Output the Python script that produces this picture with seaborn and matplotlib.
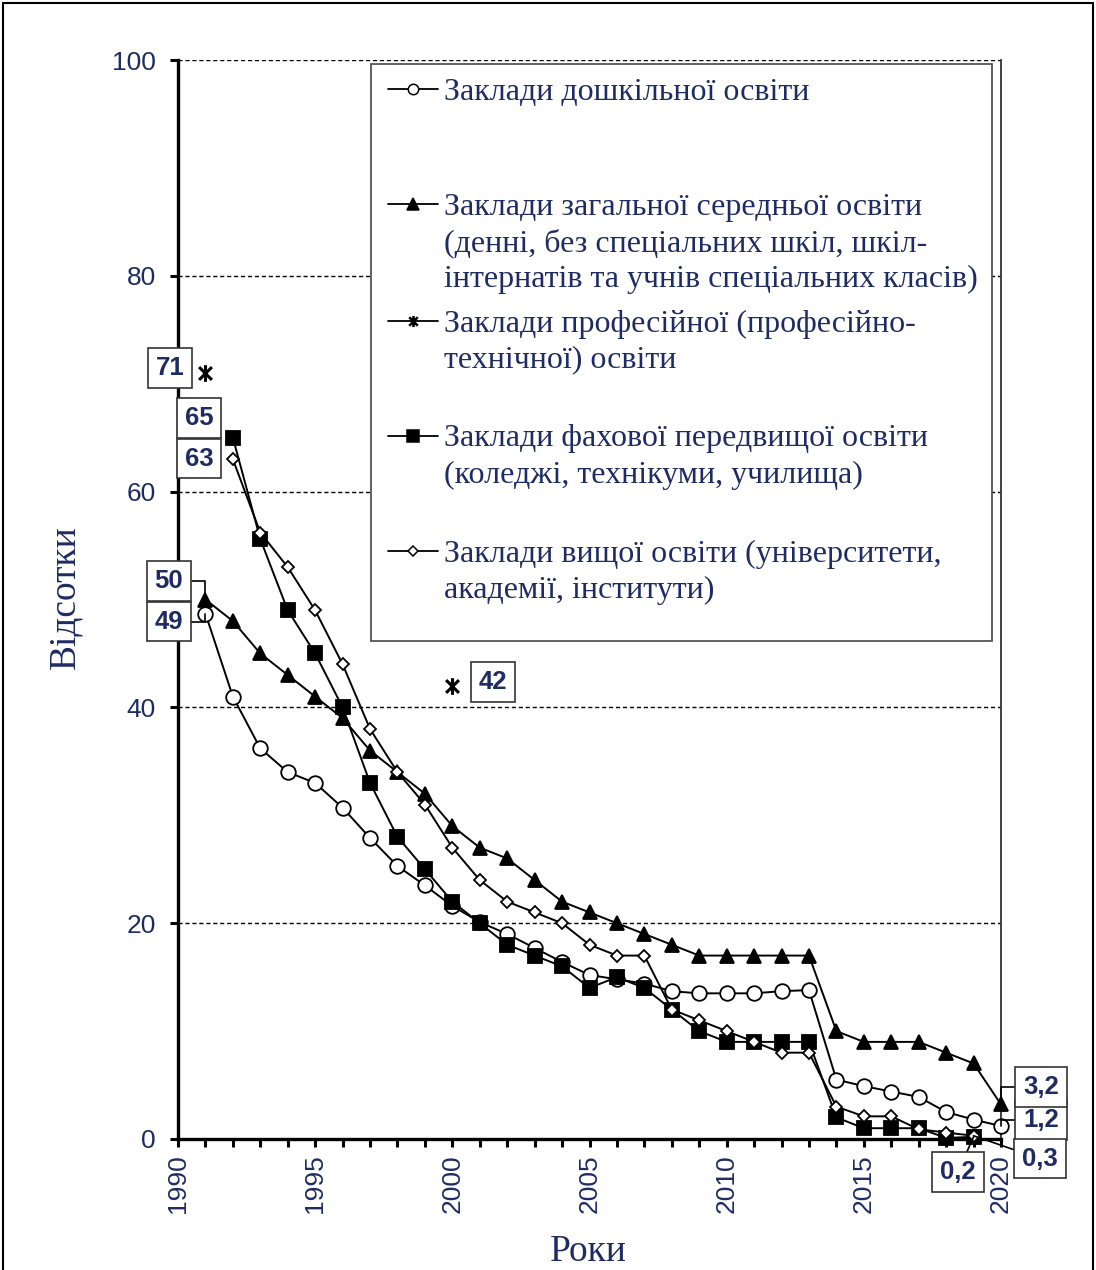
import numpy as np
import pandas as pd
import matplotlib
matplotlib.use("Agg")
import matplotlib.pyplot as plt
import seaborn as sns
from matplotlib.path import Path
from matplotlib.lines import Line2D
from matplotlib.patches import Rectangle
from matplotlib.ticker import MultipleLocator

# ---------------- data ----------------
nan = np.nan
years = list(range(1991, 2021))
preschool = [48.7, 41.0, 36.2, 34.0, 33.0, 30.7, 27.9, 25.3, 23.5, 21.6,
             20.1, 19.0, 17.7, 16.4, 15.2, 14.8, 14.4, 13.7, 13.5, 13.5,
             13.5, 13.7, 13.8, 5.5, 4.9, 4.4, 3.9, 2.5, 1.8, 1.2]
secondary = [50, 48, 45, 43, 41, 39, 36, 34, 32, 29,
             27, 26, 24, 22, 21, 20, 19, 18, 17, 17,
             17, 17, 17, 10, 9, 9, 9, 8, 7, 3.2]
vocational = [71] + [nan] * 8 + [42] + [nan] * 20
prehigher = [nan, 65, 55.6, 49, 45, 40, 33, 28, 25, 22,
             20, 18, 17, 16, 14, 15, 14, 12, 10, 9,
             9, 9, 9, 2, 1, 1, 1, 0.1, 0.2, nan]
higher = [nan, 63, 56.2, 53, 49, 44, 38, 34, 31, 27,
          24, 22, 21, 20, 18, 17, 17, 12, 11, 10,
          9, 8, 8, 3, 2.1, 2.1, 0.9, 0.6, 0.3, nan]

legend_labels = [
    ["Заклади дошкільної освіти"],
    ["Заклади загальної середньої освіти",
     "(денні, без спеціальних шкіл, шкіл-",
     "інтернатів та учнів спеціальних класів)"],
    ["Заклади професійної (професійно-",
     "технічної) освіти"],
    ["Заклади фахової передвищої освіти",
     "(коледжі, технікуми, училища)"],
    ["Заклади вищої освіти (університети,",
     "академії, інститути)"],
]
x_label = "Роки"
y_label = "Відсотки"

# ---------------- style ----------------
sns.set_style("ticks")
plt.rcParams["font.family"] = ["Liberation Sans", "DejaVu Sans"]
NAVY = "#1f2c63"
SERIF = ["Liberation Serif", "DejaVu Serif"]
W, H = 1096, 1270

fig = plt.figure(figsize=(W / 100, H / 100), dpi=100)
ax = fig.add_axes([178 / W, 1 - 1139 / H, 823 / W, 1079 / H])

df = pd.DataFrame({"year": years, "pre": preschool, "sec": secondary,
                   "voc": vocational, "ph": prehigher, "hi": higher})

asterisk = Path([(-1, -1), (1, 1), (-1, 1), (1, -1), (0, -1.3), (0, 1.3)],
                [Path.MOVETO, Path.LINETO, Path.MOVETO, Path.LINETO,
                 Path.MOVETO, Path.LINETO])

common = dict(color="black", linewidth=1.4, markeredgecolor="black",
              markeredgewidth=1.3, legend=False, ax=ax, clip_on=False)
sns.lineplot(data=df, x="year", y="pre", marker="o", markersize=10.5,
             markerfacecolor="white", zorder=3, **common)
sns.lineplot(data=df, x="year", y="sec", marker="^", markersize=10.5,
             markerfacecolor="black", zorder=3, **common)
sns.lineplot(data=df, x="year", y="ph", marker="s", markersize=10,
             markerfacecolor="black", zorder=3, **common)
sns.lineplot(data=df, x="year", y="hi", marker="D", markersize=6.5,
             markerfacecolor="white", zorder=3, **common)
sns.lineplot(data=df, x="year", y="voc", marker=asterisk, markersize=12,
             linestyle="", color="black", markeredgecolor="black",
             markeredgewidth=2.2, legend=False, ax=ax, zorder=3)

# ---------------- axes ----------------
ax.set_xlim(1990, 2020)
ax.set_ylim(0, 100)
ax.set_xticks(range(1990, 2021, 5))
ax.xaxis.set_minor_locator(MultipleLocator(1))
ax.set_yticks(range(0, 101, 20))
ax.grid(axis="y", color="black", linestyle=(0, (3, 2)), linewidth=1.0)
ax.set_axisbelow(True)
for s in ["left", "bottom"]:
    ax.spines[s].set_linewidth(2.4)
    ax.spines[s].set_color("black")
ax.spines["top"].set_visible(False)
ax.spines["right"].set_linewidth(1.3)
ax.spines["right"].set_color("#333333")
ax.tick_params(axis="x", which="both", direction="out", length=6, width=2.2,
               color="black")
ax.tick_params(axis="x", which="major", labelsize=19, labelcolor=NAVY,
               labelrotation=90, pad=5)
ax.tick_params(axis="y", which="major", direction="out", length=6, width=2.2,
               color="black", labelsize=19, labelcolor=NAVY, pad=10)

ax.set_xlabel(x_label, fontsize=27, family=SERIF, color=NAVY, va="center")
ax.xaxis.set_label_coords((588 - 178) / 823, (1139 - 1252) / 1079)
ax.set_ylabel(y_label, fontsize=27, family=SERIF, color=NAVY, va="center")
ax.yaxis.set_label_coords((65 - 178) / 823, (1139 - 597) / 1079)

# ---------------- value labels ----------------
bbox = dict(boxstyle="square,pad=0.3", fc="white", ec="#333333", lw=1.2)
ELBOW = "angle,angleA=0,angleB=90,rad=0"
annotations = [
    ("71", 1991, vocational, (-25.6, 3.6), None),
    ("65", 1992, prehigher, (-24.5, 14.0), None),
    ("63", 1992, higher, (-24.5, 0.5), None),
    ("50", 1991, secondary, (-26.3, 13.3), ELBOW),
    ("49", 1991, preschool, (-26.3, -5.8), ELBOW),
    ("42", 2000, vocational, (29.0, 2.9), None),
    ("1,2", 2020, preschool, (28.8, 4.3), ELBOW),
    ("3,2", 2020, secondary, (28.8, 12.6), ELBOW),
    ("0,3", 2019, higher, (47.8, -16.5), "arc3"),
    ("0,2", 2019, prehigher, (-11.2, -25.3), "arc3"),
]
for txt, yr, series, off, conn in annotations:
    kw = {}
    if conn is not None:
        kw["arrowprops"] = dict(arrowstyle="-", color="black", lw=1.2,
                                connectionstyle=conn, shrinkA=0, shrinkB=0)
    ax.annotate(txt, xy=(yr, series[years.index(yr)]), xytext=off,
                textcoords="offset points", ha="center", va="center",
                fontsize=18.5, fontweight="bold", color=NAVY,
                family=["Liberation Sans", "DejaVu Sans"], bbox=bbox,
                annotation_clip=False, zorder=6, **kw)

# ---------------- legend (manual layout) ----------------
def fx(px):
    return px / W


def fy(py):
    return 1 - py / H


fig.add_artist(Rectangle((fx(371), fy(641)), (992 - 371) / W, (641 - 64) / H,
                         transform=fig.transFigure, fc="white", ec="#555555",
                         lw=1.3, zorder=5))
handle_styles = [
    dict(marker="o", markersize=7.5, markerfacecolor="white"),
    dict(marker="^", markersize=8, markerfacecolor="black"),
    dict(marker=asterisk, markersize=8, markeredgewidth=1.8),
    dict(marker="s", markersize=8, markerfacecolor="black"),
    dict(marker="D", markersize=5.5, markerfacecolor="white"),
]
first_lines = [89, 204, 321, 436, 551]
for lines, y0, hs in zip(legend_labels, first_lines, handle_styles):
    st = dict(markeredgecolor="black", markeredgewidth=1.1)
    st.update(hs)
    fig.add_artist(Line2D([fx(388), fx(413), fx(438)], [fy(y0)] * 3,
                          transform=fig.transFigure, color="black", lw=1.3,
                          markevery=[1], zorder=6, **st))
    for i, line in enumerate(lines):
        fig.text(fx(444), fy(y0 + 3 + 36 * i), line, family=SERIF,
                 fontsize=23, color=NAVY, ha="left", va="center", zorder=6)

# outer frame
fig.add_artist(Rectangle((fx(3), -0.1), (1093 - 3) / W, fy(3) + 0.1,
                         transform=fig.transFigure, fill=False,
                         ec="black", lw=1.5, zorder=7))

fig.savefig("out.png", dpi=100)
